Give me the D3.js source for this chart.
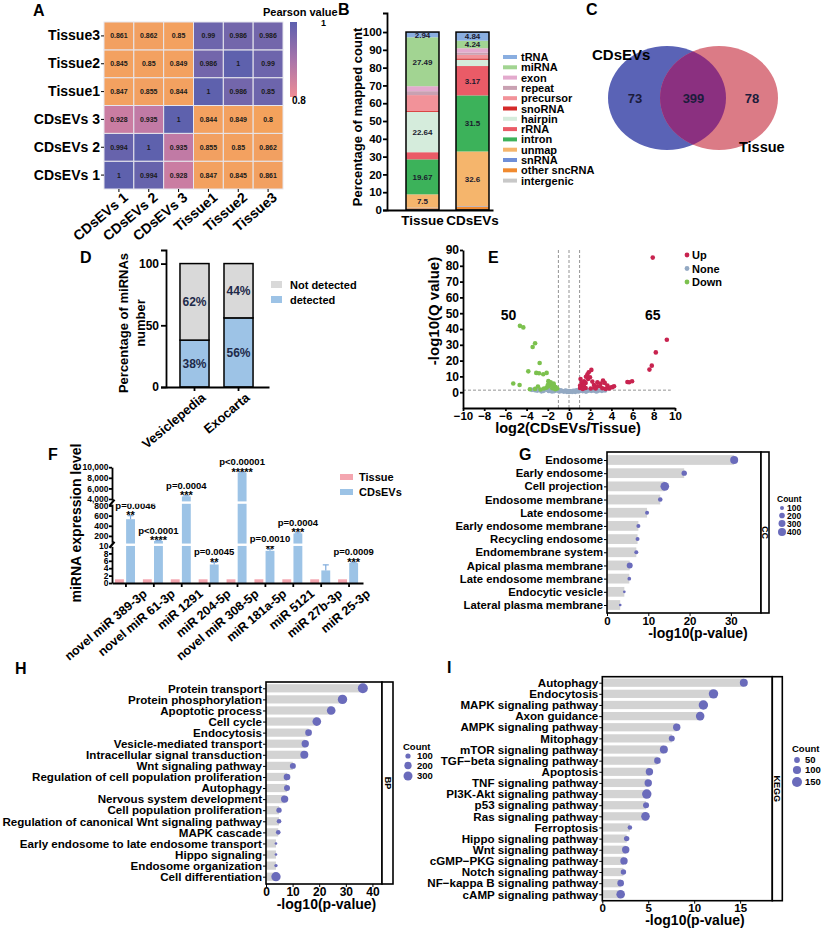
<!DOCTYPE html>
<html>
<head>
<meta charset="utf-8">
<script src="https://cdn.jsdelivr.net/npm/d3@7"></script>
<style>
    body { margin: 0; background: #fff; }
    svg { font-family: "Liberation Sans", Arial, sans-serif; font-weight: bold; }
</style>
</head>
<body>
<div id="fig"></div>
<script>

const W = 823, H = 929;

// ---- A: Pearson correlation between samples ----
const samples = ["CDsEVs 1", "CDsEVs 2", "CDsEVs 3", "Tissue1", "Tissue2", "Tissue3"];
// rows follow the samples order (CDsEVs 1 is the bottom row)
const corrValues = [
    [1, 0.994, 0.928, 0.847, 0.845, 0.861],
    [0.994, 1, 0.935, 0.855, 0.85, 0.862],
    [0.928, 0.935, 1, 0.844, 0.849, 0.8],
    [0.847, 0.855, 0.844, 1, 0.986, 0.99],
    [0.845, 0.85, 0.849, 0.986, 1, 0.99],
    [0.861, 0.862, 0.85, 0.99, 0.986, 0.986]
];
const corrLabels = [
    ["1", "0.994", "0.928", "0.847", "0.845", "0.861"],
    ["0.994", "1", "0.935", "0.855", "0.85", "0.862"],
    ["0.928", "0.935", "1", "0.844", "0.849", "0.8"],
    ["0.847", "0.855", "0.844", "1", "0.986", "0.85"],
    ["0.845", "0.85", "0.849", "0.986", "1", "0.99"],
    ["0.861", "0.862", "0.85", "0.99", "0.986", "0.986"]
];

// ---- B: composition of mapped reads ----
const mapGroups = ["Tissue", "CDsEVs"];
const rnaTypes = ["tRNA", "miRNA", "exon", "repeat", "precursor", "snoRNA", "hairpin",
    "rRNA", "intron", "unmap", "snRNA", "other sncRNA", "intergenic"];
const tissueShare = [2.94, 27.49, 2.8, 2.2, 8.96, 0.5, 22.64, 4.0, 19.67, 7.5, 0.3, 0.5, 0.5];
const evShare = [4.84, 4.24, 2.4, 1.3, 2.0, 0.8, 3.5, 16.5, 31.5, 30.8, 0.3, 1.5, 0.3];
const tissueShareLabels = ["2.94", "27.49", "", "", "", "", "22.64", "", "19.67", "7.5", "", "", ""];
const evShareLabels = ["4.84", "4.24", "", "", "", "", "", "3.17", "31.5", "32.6", "", "", ""];

// ---- C: venn ----
const vennSets = ["CDsEVs", "Tissue"];
const vennCounts = [73, 399, 78];   // CDsEVs only, shared, Tissue only

// ---- D: database coverage ----
const databases = ["Vesiclepedia", "Exocarta"];
const detectedPct = [38, 56];
const notDetectedPct = [62, 44];

// ---- E: volcano ----
const upPoints = [[7.9, 85.2], [9.23, 33.2], [8.19, 25.2], [7.81, 16.8], [7.59, 14.3], [5.95, 6.9],
    [5.67, 6.3], [5.51, 6.5], [2.11, 14.1], [1.86, 12.6], [1.73, 11.1], [1.98, 9.5], [1.09, 8.4],
    [1.42, 6.9], [1.57, 5.9], [3.21, 7.4], [3.37, 5.9], [2.99, 5.5], [3.62, 4.2], [4.09, 3.2],
    [4.25, 3.8], [2.68, 3.8], [2.36, 4.6], [1.26, 3.8], [1.04, 2.7], [1.57, 2.7], [2.05, 2.3],
    [2.52, 2.3], [3.15, 2.5], [3.78, 2.3], [1.2, 5.9], [1.8, 8.4], [2.2, 6.7], [2.68, 6.3],
    [3.46, 2.1], [1.05, 4.2], [1.42, 4.8], [2.93, 3.8], [1.6, 9.8], [2.4, 2.9], [3.9, 3.0], [1.3, 2.1]];
const nonePoints = [[-3.5, 1.5], [-3.2, 1.3], [-3.0, 1.0], [-2.8, 1.5], [-2.6, 1.2], [-2.4, 0.9],
    [-2.2, 1.8], [-2.0, 1.4], [-1.9, 0.8], [-1.7, 1.1], [-1.5, 1.6], [-1.4, 0.7], [-1.2, 1.2],
    [-1.0, 0.9], [-0.9, 0.5], [-0.7, 0.8], [-0.5, 0.4], [-0.4, 0.7], [-0.2, 0.3], [0, 0.2],
    [0.1, 0.5], [0.3, 0.3], [0.5, 0.6], [0.6, 0.3], [0.8, 0.8], [0.9, 0.5], [1.1, 1.0], [1.3, 0.7],
    [1.5, 1.1], [1.7, 0.8], [1.9, 1.2], [2.1, 0.9], [2.3, 1.1], [2.5, 0.8], [2.8, 1.0], [3.1, 0.9],
    [3.4, 1.1], [-0.8, 1.2], [0.7, 1.1], [-1.6, 0.5], [1.6, 0.4], [-2.6, 0.6], [2.6, 0.5],
    [0, 0.6], [-0.3, 1.0], [0.4, 0.9]];
const downPoints = [[-4.63, 42.0], [-4.31, 41.0], [-3.2, 31], [-3.43, 28.6], [-2.77, 18.5],
    [-3.84, 13.2], [-3.09, 12.2], [-2.83, 12], [-2.43, 11.4], [-2.11, 12.2], [-5.26, 5.5],
    [-4.66, 4.6], [-3.69, 1.9], [-3.2, 2.1], [-2.93, 3.6], [-1.95, 7], [-1.8, 5.9], [-1.64, 4.8],
    [-1.42, 4.2], [-1.89, 3.8], [-2.11, 2.9], [-1.26, 3.2], [-1.57, 2.5], [-2.36, 2.3],
    [-2.68, 1.7], [-1.1, 2.3], [-1.73, 6.3], [-1.45, 5.5], [-2.0, 4.5], [-1.3, 1.9]];
const volcanoCounts = [50, 65];   // down, up

// ---- F: miRNA expression ----
const mirnas = ["novel miR 389-3p", "novel miR 61-3p", "miR 1291", "miR 204-5p", "novel miR 308-5p",
    "miR 181a-5p", "miR 5121", "miR 27b-3p", "miR 25-3p"];
const tissueExpr = [1, 1, 1, 1, 1, 1, 1, 1, 1];
const evExpr = [530, 100, 4500, 5.0, 9000, 8.7, 250, 3.4, 5.4];
const evErr = [70, 8, 120, 0.6, 80, 0.4, 10, 1.5, 0.2];
const pText = ["p=0.0046", "p<0.0001", "p=0.0004", "p=0.0045", "p<0.00001", "p=0.0010", "p=0.0004", "", "p=0.0009"];
const starText = ["**", "****", "***", "**", "*****", "**", "***", "", "***"];

// ---- G: GO cellular component ----
const ccTerms = ["Endosome", "Early endosome", "Cell projection", "Endosome membrane", "Late endosome",
    "Early endosome membrane", "Recycling endosome", "Endomembrane system", "Apical plasma membrane",
    "Late endosome membrane", "Endocytic vesicle", "Lateral plasma membrane"];
const ccLogP = [30.8, 18.7, 14.0, 12.9, 9.7, 7.6, 7.4, 7.1, 5.5, 5.4, 4.2, 3.2];
const ccCount = [400, 180, 470, 130, 100, 100, 100, 100, 225, 85, 45, 45];

// ---- H: GO biological process ----
const bpTerms = ["Protein transport", "Protein phosphorylation", "Apoptotic process", "Cell cycle",
    "Endocytosis", "Vesicle-mediated transport", "Intracellular signal transduction",
    "Wnt signaling pathway", "Regulation of cell population proliferation", "Autophagy",
    "Nervous system development", "Cell population proliferation",
    "Regulation of canonical Wnt signaling pathway", "MAPK cascade",
    "Early endosome to late endosome transport", "Hippo signaling", "Endosome organization",
    "Cell differentiation"];
const bpLogP = [36.4, 28.75, 24.5, 19.1, 16, 14.75, 14.4, 10.1, 7.9, 7.9, 7.0, 4.9, 4.9, 4.6, 3.75, 3.75, 3.75, 3.75];
const bpCount = [370, 327, 278, 278, 164, 200, 237, 133, 164, 133, 200, 105, 80, 80, 26, 26, 41, 323];

// ---- I: KEGG ----
const keggTerms = ["Autophagy", "Endocytosis", "MAPK signaling pathway", "Axon guidance",
    "AMPK signaling pathway", "Mitophagy", "mTOR signaling pathway", "TGF\u2212beta signaling pathway",
    "Apoptosis", "TNF signaling pathway", "PI3K-Akt signaling pathway", "p53 signaling pathway",
    "Ras signaling pathway", "Ferroptosis", "Hippo signaling pathway", "Wnt signaling pathway",
    "cGMP\u2212PKG signaling pathway", "Notch signaling pathway", "NF\u2212kappa B signaling pathway",
    "cAMP signaling pathway"];
const keggLogP = [15.4, 12.1, 11.0, 10.65, 8.1, 7.56, 6.7, 6.0, 5.13, 5.0, 4.84, 4.76, 4.7, 3.0, 2.65, 2.55, 2.36, 2.3, 2.0, 2.0];
const keggCount = [96, 133, 133, 111, 82, 54, 96, 65, 82, 82, 133, 54, 111, 32, 44, 82, 82, 44, 65, 111];


const svg = d3.select("#fig").append("svg")
    .attr("width", W)
    .attr("height", H);

svg.append("rect").attr("width", W).attr("height", H).attr("fill", "#fff");

// axis text/lines in black bold, drop d3's own font settings
function styleAxis(sel, fontSize, lineWidth) {
    sel.attr("font-family", null).attr("font-size", null);
    sel.selectAll("text").attr("font-size", fontSize).attr("fill", "#000");
    sel.selectAll("line, path").attr("stroke", "#000").attr("stroke-width", lineWidth || 1);
}

function label(g, x, y, txt, size, anchor, rotate) {
    let t = g.append("text")
        .attr("font-size", size)
        .attr("text-anchor", anchor || "start")
        .attr("fill", "#000")
        .text(txt);
    if (rotate) {
        t.attr("transform", "translate(" + x + "," + y + ") rotate(" + rotate + ")");
    } else {
        t.attr("x", x).attr("y", y);
    }
    return t;
}


/*
 * A - heatmap
 */
function drawHeatmap() {
    let g = svg.append("g");
    let x = d3.scaleBand().domain(samples).range([104, 283]);
    let y = d3.scaleBand().domain(samples).range([189, 22]);
    let color = d3.scaleLinear()
        .domain([0.8, 0.87, 0.93, 1])
        .range(["#f4a25c", "#f2a062", "#c97ca4", "#5e61ad"]);

    let cells = [];
    samples.forEach((row, i) => samples.forEach((col, j) => {
        cells.push({row: row, col: col, value: corrValues[i][j], text: corrLabels[i][j]});
    }));

    g.selectAll(".cell").data(cells).join("rect")
        .attr("class", "cell")
        .attr("x", d => x(d.col))
        .attr("y", d => y(d.row))
        .attr("width", x.bandwidth())
        .attr("height", y.bandwidth())
        .attr("fill", d => color(d.value))
        .attr("stroke", "#e6e6ee")
        .attr("stroke-width", 1);

    g.selectAll(".cell-text").data(cells).join("text")
        .attr("class", "cell-text")
        .attr("x", d => x(d.col) + x.bandwidth() / 2)
        .attr("y", d => y(d.row) + y.bandwidth() / 2 + 2.5)
        .attr("text-anchor", "middle")
        .attr("font-size", 7)
        .attr("fill", "#1a1a1a")
        .text(d => d.text);

    g.append("g")
        .attr("transform", "translate(104,0)")
        .call(d3.axisLeft(y).tickSize(3).tickPadding(1))
        .call(a => a.select(".domain").remove())
        .call(styleAxis, 14, 1);

    let xa = g.append("g")
        .attr("transform", "translate(0,189)")
        .call(d3.axisBottom(x).tickSize(3))
        .call(a => a.select(".domain").remove())
        .call(styleAxis, 14, 1);
    xa.selectAll("text")
        .attr("x", 0).attr("y", 0).attr("dy", null)
        .attr("text-anchor", "end")
        .attr("transform", "translate(10,10) rotate(-40)");

    // colour bar
    let grad = g.append("defs").append("linearGradient")
        .attr("id", "pearsonGrad")
        .attr("x1", "0%").attr("x2", "0%").attr("y1", "0%").attr("y2", "100%");
    grad.append("stop").attr("offset", "0%").attr("stop-color", "#5c5fae");
    grad.append("stop").attr("offset", "50%").attr("stop-color", "#a774aa");
    grad.append("stop").attr("offset", "100%").attr("stop-color", "#ef8d95");
    g.append("rect").attr("x", 290).attr("y", 22).attr("width", 7).attr("height", 75)
        .attr("fill", "url(#pearsonGrad)");
    label(g, 263, 16, "Pearson value", 11);
    label(g, 321, 25.5, "1", 9);
    label(g, 292, 104, "0.8", 10);
}


/*
 * B - stacked composition bars
 */
function drawComposition() {
    let g = svg.append("g");
    let y = d3.scaleLinear().domain([0, 110.7]).range([210, 13]);
    let x = d3.scaleBand().domain(mapGroups).range([387, 493])
        .paddingInner(0.34).paddingOuter(0.23).align(0.826);
    let color = d3.scaleOrdinal().domain(rnaTypes).range([
        "#8aaee0", "#a2d492", "#e3aacd", "#c9a1b2", "#f29299", "#d42a2a", "#d5ecdc",
        "#ea5b67", "#3cb25a", "#f5b56c", "#6f8fd8", "#f08a30", "#c8c8c8"]);

    let shares = [tissueShare, evShare];
    let texts = [tissueShareLabels, evShareLabels];
    let rows = mapGroups.map((grp, gi) => {
        let o = {group: grp};
        rnaTypes.forEach((t, i) => o[t] = shares[gi][i]);
        return o;
    });
    let stack = d3.stack().keys(rnaTypes.slice().reverse());
    let series = stack(rows);

    series.forEach(s => {
        g.selectAll(null).data(s).join("rect")
            .attr("x", d => x(d.data.group))
            .attr("y", d => y(d[1]))
            .attr("width", x.bandwidth())
            .attr("height", d => y(d[0]) - y(d[1]))
            .attr("fill", color(s.key));
        let ti = rnaTypes.indexOf(s.key);
        s.forEach((d, gi) => {
            let t = texts[gi][ti];
            if (!t) return;
            g.append("text")
                .attr("x", x(d.data.group) + x.bandwidth() / 2)
                .attr("y", (y(d[0]) + y(d[1])) / 2 + 3)
                .attr("text-anchor", "middle")
                .attr("font-size", 8)
                .attr("fill", "#1a1a2e")
                .text(t);
        });
    });

    // bar outlines
    g.selectAll(".outline").data(rows).join("rect")
        .attr("x", d => x(d.group))
        .attr("y", d => y(d3.sum(rnaTypes, t => d[t])))
        .attr("width", x.bandwidth())
        .attr("height", d => y(0) - y(d3.sum(rnaTypes, t => d[t])))
        .attr("fill", "none")
        .attr("stroke", "#000")
        .attr("stroke-width", 1.5);

    g.append("g").attr("transform", "translate(387,0)")
        .call(d3.axisLeft(y).tickValues(d3.range(0, 101, 10)).tickSizeOuter(0).tickSize(4).tickPadding(1))
        .call(styleAxis, 11.5, 1.8);
    g.append("g").attr("transform", "translate(0,210)")
        .call(d3.axisBottom(x).tickSize(0).tickPadding(5))
        .call(styleAxis, 13.5, 1.8);

    label(g, 362, 117, "Percentage of mapped count", 13, "middle", -90);

    // legend
    rnaTypes.forEach((t, i) => {
        g.append("rect").attr("x", 503).attr("y", 55 + i * 10.3).attr("width", 14).attr("height", 4)
            .attr("fill", color(t));
        label(g, 521, 61 + i * 10.3, t, 11);
    });
}


/*
 * C - venn diagram
 */
function drawVenn() {
    let g = svg.append("g");
    let cx = d3.scalePoint().domain(vennSets).range([667, 719]);
    let color = d3.scaleOrdinal().domain(vennSets).range(["#5a63b6", "#db7b86"]);
    let rx = 59, ry = 52, cy = 98;

    g.append("defs").append("clipPath").attr("id", "vennClip")
        .append("ellipse")
        .attr("cx", cx(vennSets[0])).attr("cy", cy).attr("rx", rx).attr("ry", ry);

    g.selectAll(".set").data(vennSets).join("ellipse")
        .attr("cx", d => cx(d)).attr("cy", cy).attr("rx", rx).attr("ry", ry)
        .attr("fill", d => color(d));
    g.append("ellipse")
        .attr("cx", cx(vennSets[1])).attr("cy", cy).attr("rx", rx).attr("ry", ry)
        .attr("fill", "#8b3080")
        .attr("clip-path", "url(#vennClip)");

    let tx = d3.scalePoint().domain([0, 1, 2]).range([635, 752]);
    g.selectAll(".count").data(vennCounts).join("text")
        .attr("x", (d, i) => tx(i))
        .attr("y", cy + 5)
        .attr("text-anchor", "middle")
        .attr("font-size", 13)
        .attr("fill", "#1c1c3c")
        .text(d => d);

    label(g, 592, 60, vennSets[0], 15);
    label(g, 739, 152, vennSets[1], 14.5);
}


/*
 * D - detected / not detected in EV databases
 */
function drawDatabases() {
    let g = svg.append("g");
    let y = d3.scaleLinear().domain([0, 111]).range([387, 250]);
    let x = d3.scaleBand().domain(databases).range([166, 269])
        .paddingInner(0.34).paddingOuter(0.34).align(0.467);

    let rows = databases.map((db, i) => ({db: db, detected: detectedPct[i], notDetected: notDetectedPct[i]}));
    let series = d3.stack().keys(["detected", "notDetected"])(rows);
    let color = {detected: "#9dc3e6", notDetected: "#d9d9d9"};

    series.forEach(s => {
        g.selectAll(null).data(s).join("rect")
            .attr("x", d => x(d.data.db))
            .attr("y", d => y(d[1]))
            .attr("width", x.bandwidth())
            .attr("height", d => y(d[0]) - y(d[1]))
            .attr("fill", color[s.key])
            .attr("stroke", "#000")
            .attr("stroke-width", 1.5);
        g.selectAll(null).data(s).join("text")
            .attr("x", d => x(d.data.db) + x.bandwidth() / 2)
            .attr("y", d => (y(d[0]) + y(d[1])) / 2 + 4.5)
            .attr("text-anchor", "middle")
            .attr("font-size", 12)
            .attr("fill", "#1e2a4a")
            .text(d => (d[1] - d[0]) + "%");
    });

    g.append("g").attr("transform", "translate(166,0)")
        .call(d3.axisLeft(y).tickValues([0, 50, 100]).tickSizeOuter(0).tickSize(5).tickPadding(2))
        .call(styleAxis, 12, 1.8);
    let xa = g.append("g").attr("transform", "translate(0,387)")
        .call(d3.axisBottom(x).tickSize(4).tickSizeOuter(0))
        .call(styleAxis, 13, 1.8);
    xa.selectAll("text")
        .attr("x", 0).attr("y", 0).attr("dy", null)
        .attr("text-anchor", "end")
        .attr("transform", "translate(12,12) rotate(-40)");

    label(g, 128, 323, "Percentage of miRNAs", 13, "middle", -90);
    label(g, 145, 323, "number", 13, "middle", -90);

    // legend
    g.append("rect").attr("x", 271).attr("y", 281).attr("width", 11).attr("height", 7).attr("fill", color.notDetected);
    label(g, 290, 289, "Not detected", 11);
    g.append("rect").attr("x", 271).attr("y", 296).attr("width", 11).attr("height", 7).attr("fill", color.detected);
    label(g, 290, 304, "detected", 11);
}


/*
 * E - volcano plot
 */
function drawVolcano() {
    let g = svg.append("g");
    let x = d3.scaleLinear().domain([-10, 10]).range([463, 675]);
    let y = d3.scaleLinear().domain([-10, 90]).range([408, 250]);
    let colors = {Up: "#c8234f", None: "#93a9c3", Down: "#7cc14e"};

    // threshold lines
    [-1, 0, 1].forEach(v => {
        g.append("line")
            .attr("x1", x(v)).attr("x2", x(v)).attr("y1", y(90)).attr("y2", y(-10))
            .attr("stroke", "#777").attr("stroke-width", 0.8).attr("stroke-dasharray", "3,2");
    });
    g.append("line")
        .attr("x1", x(-10)).attr("x2", x(9.6)).attr("y1", y(1.3)).attr("y2", y(1.3))
        .attr("stroke", "#777").attr("stroke-width", 0.8).attr("stroke-dasharray", "3,2");

    [["None", nonePoints], ["Down", downPoints], ["Up", upPoints]].forEach(([k, pts]) => {
        g.selectAll(null).data(pts).join("circle")
            .attr("cx", d => x(d[0]))
            .attr("cy", d => y(d[1]))
            .attr("r", k === "None" ? 2.4 : 2.3)
            .attr("fill", colors[k]);
    });

    g.append("g").attr("transform", "translate(0,408)")
        .call(d3.axisBottom(x).tickValues(d3.range(-10, 11, 2)).tickSize(3).tickSizeOuter(0).tickPadding(1))
        .call(styleAxis, 11.5, 1.8);
    g.append("g").attr("transform", "translate(463,0)")
        .call(d3.axisLeft(y).tickValues(d3.range(0, 91, 10)).tickSize(3).tickSizeOuter(0).tickPadding(1))
        .call(styleAxis, 12, 1.8);

    label(g, x(-5.7), 320, volcanoCounts[0], 14, "middle");
    label(g, x(7.9), 320, volcanoCounts[1], 14, "middle");

    label(g, 568, 433, "log2(CDsEVs/Tissue)", 14.5, "middle");
    label(g, 439, 311, "-log10(Q value)", 15, "middle", -90);

    ["Up", "None", "Down"].forEach((k, i) => {
        g.append("circle").attr("cx", 687).attr("cy", 255 + i * 13.5).attr("r", 2.4).attr("fill", colors[k]);
        label(g, 692, 259 + i * 13.5, k, 11);
    });
}


/*
 * F - expression bars with a broken y axis
 */
function drawExpression() {
    let g = svg.append("g");
    let segs = [
        d3.scaleLinear().domain([0, 10]).range([583, 546]),
        d3.scaleLinear().domain([50, 850]).range([543.5, 503]),
        d3.scaleLinear().domain([3400, 10000]).range([502.2, 467.2])
    ];
    let y = v => v <= 10 ? segs[0](v) : (v <= 850 ? segs[1](v) : segs[2](v));
    let x = d3.scaleBand().domain(mirnas).range([112, 363]);
    let sub = d3.scaleBand().domain(["Tissue", "CDsEVs"]).range([3, 23]).paddingInner(0.2);
    let color = {Tissue: "#f4a6b0", CDsEVs: "#9cc3e6"};

    mirnas.forEach((m, i) => {
        let vals = {Tissue: tissueExpr[i], CDsEVs: evExpr[i]};
        ["Tissue", "CDsEVs"].forEach(k => {
            g.append("rect")
                .attr("x", x(m) + sub(k))
                .attr("y", y(vals[k]))
                .attr("width", sub.bandwidth())
                .attr("height", y(0) - y(vals[k]))
                .attr("fill", color[k]);
        });
        // error bar
        let cxp = x(m) + sub("CDsEVs") + sub.bandwidth() / 2;
        let top = y(evExpr[i] + evErr[i]);
        g.append("line").attr("x1", cxp).attr("x2", cxp).attr("y1", y(evExpr[i])).attr("y2", top)
            .attr("stroke", "#7fabdc").attr("stroke-width", 1.2);
        g.append("line").attr("x1", cxp - 3).attr("x2", cxp + 3).attr("y1", top).attr("y2", top)
            .attr("stroke", "#7fabdc").attr("stroke-width", 1.2);
        if (pText[i]) {
            label(g, cxp, top + 3.5, starText[i], 11, "middle");
            label(g, cxp + (i === 0 ? 5 : 0), top - 7, pText[i], 9.5, "middle");
        }
    });

    // gaps where the axis is broken
    let breaks = [(segs[0].range()[1] + segs[1].range()[0]) / 2, (segs[1].range()[1] + segs[2].range()[0]) / 2];
    breaks.forEach(b => {
        g.append("rect").attr("x", 114).attr("y", b - 1.2).attr("width", 250).attr("height", 2.4).attr("fill", "#fff");
    });

    let tickSets = [[0, 2, 4, 6, 8, 10], [200, 400, 600, 800], [4000, 6000, 8000, 10000]];
    segs.forEach((s, i) => {
        g.append("g").attr("transform", "translate(112,0)")
            .call(d3.axisLeft(s).tickValues(tickSets[i]).tickSize(3).tickSizeOuter(0).tickPadding(0.5))
            .call(styleAxis, 8.5, 1.8);
    });
    breaks.forEach(b => {
        g.append("rect").attr("x", 109).attr("y", b - 2).attr("width", 6).attr("height", 4).attr("fill", "#fff");
        g.append("line").attr("x1", 109.5).attr("x2", 114.5).attr("y1", b + 3).attr("y2", b - 3)
            .attr("stroke", "#000").attr("stroke-width", 2.2);
    });

    let xa = g.append("g").attr("transform", "translate(0,583)")
        .call(d3.axisBottom(x).tickSize(4).tickSizeOuter(0))
        .call(styleAxis, 12.5, 1.8);
    xa.selectAll("text")
        .attr("x", 0).attr("y", 0).attr("dy", null)
        .attr("text-anchor", "end")
        .attr("transform", "translate(22,12) rotate(-40)");

    label(g, 81, 523, "miRNA expression level", 14, "middle", -90);

    ["Tissue", "CDsEVs"].forEach((k, i) => {
        g.append("rect").attr("x", 340).attr("y", 474 + i * 15).attr("width", 13).attr("height", 6).attr("fill", color[k]);
        label(g, 359, 481 + i * 15, k, 11);
    });
}


/*
 * G, H, I - enrichment bar + dot plots
 */
function drawEnrichment(opt) {
    let g = svg.append("g");
    let x = d3.scaleLinear().domain([0, opt.xMax]).range([opt.left, opt.right]);
    let y = d3.scalePoint().domain(opt.terms).range([opt.firstRow, opt.lastRow]);
    let r = d3.scaleSqrt().domain([0, opt.countMax]).range([0, opt.rMax]);
    let barH = y.step() * 0.74;
    let dotColor = "#6a6bbb";

    g.selectAll(".bar").data(opt.terms).join("rect")
        .attr("x", x(0))
        .attr("y", d => y(d) - barH / 2)
        .attr("width", (d, i) => x(opt.values[i]) - x(0))
        .attr("height", barH)
        .attr("fill", "#d3d3d3");

    g.selectAll(".dot").data(opt.terms).join("circle")
        .attr("cx", (d, i) => x(opt.values[i]))
        .attr("cy", d => y(d))
        .attr("r", (d, i) => r(opt.counts[i]))
        .attr("fill", dotColor);

    g.append("rect")
        .attr("x", opt.left).attr("y", opt.top)
        .attr("width", opt.right - opt.left).attr("height", opt.bottom - opt.top)
        .attr("fill", "none").attr("stroke", "#000").attr("stroke-width", 1.6);
    g.append("rect")
        .attr("x", opt.right).attr("y", opt.top)
        .attr("width", opt.strip).attr("height", opt.bottom - opt.top)
        .attr("fill", "#fff").attr("stroke", "#000").attr("stroke-width", 1.6);
    label(g, opt.right + opt.strip / 2 - 3, (opt.top + opt.bottom) / 2, opt.stripLabel, 9, "middle", 90);

    g.append("g").attr("transform", "translate(0," + opt.bottom + ")")
        .call(d3.axisBottom(x).tickValues(opt.ticks).tickSize(3).tickPadding(0.5))
        .call(a => a.select(".domain").remove())
        .call(styleAxis, opt.tickFont, 1);
    g.append("g").attr("transform", "translate(" + opt.left + ",0)")
        .call(d3.axisLeft(y).tickSize(3).tickPadding(1))
        .call(a => a.select(".domain").remove())
        .call(styleAxis, opt.termFont, 1);

    label(g, opt.titleX, opt.titleY, "-log10(p-value)", 14, "middle");

    // size legend
    let lg = opt.legend;
    label(g, lg.x, lg.y, "Count", lg.font);
    opt.legendCounts.forEach((c, i) => {
        g.append("circle").attr("cx", lg.dotX).attr("cy", lg.rows[i]).attr("r", r(c)).attr("fill", dotColor);
        label(g, lg.textX, lg.rows[i] + lg.font * 0.36, c, lg.font);
    });
}


function drawLetters() {
    [["A", 33, 16], ["B", 338, 15], ["C", 586, 15], ["D", 80, 263], ["E", 488, 263],
     ["F", 48, 460], ["G", 519, 460], ["H", 15, 674], ["I", 447, 673]].forEach(l => {
        label(svg, l[1], l[2], l[0], 16);
    });
}


drawHeatmap();
drawComposition();
drawVenn();
drawDatabases();
drawVolcano();
drawExpression();

drawEnrichment({
    terms: ccTerms, values: ccLogP, counts: ccCount,
    left: 607, right: 761, strip: 8, top: 452, bottom: 613, firstRow: 460, lastRow: 605,
    xMax: 37.3, ticks: [0, 10, 20, 30], countMax: 400, rMax: 4,
    termFont: 11.3, tickFont: 11.5, stripLabel: "CC", titleX: 698, titleY: 637.5,
    legendCounts: [100, 200, 300, 400],
    legend: {x: 777, y: 502, font: 8.5, dotX: 782, textX: 787, rows: [508, 515.5, 523.5, 532]}
});
drawEnrichment({
    terms: bpTerms, values: bpLogP, counts: bpCount,
    left: 266, right: 382, strip: 11, top: 682, bottom: 884, firstRow: 688.3, lastRow: 876.7,
    xMax: 43.6, ticks: [0, 10, 20, 30, 40], countMax: 300, rMax: 4.5,
    termFont: 11.6, tickFont: 12, stripLabel: "BP", titleX: 326.5, titleY: 909,
    legendCounts: [100, 200, 300],
    legend: {x: 403, y: 750, font: 9.5, dotX: 408, textX: 417, rows: [756, 765.5, 776]}
});
drawEnrichment({
    terms: keggTerms, values: keggLogP, counts: keggCount,
    left: 602.3, right: 772.3, strip: 10, top: 676.7, bottom: 900.7, firstRow: 682.7, lastRow: 894.3,
    xMax: 18.5, ticks: [0, 5, 10, 15], countMax: 150, rMax: 5,
    termFont: 11.6, tickFont: 11.5, stripLabel: "KEGG", titleX: 695, titleY: 925,
    legendCounts: [50, 100, 150],
    legend: {x: 792, y: 752, font: 9.5, dotX: 797, textX: 805, rows: [760, 770, 782]}
});

drawLetters();

</script>
</body>
</html>
